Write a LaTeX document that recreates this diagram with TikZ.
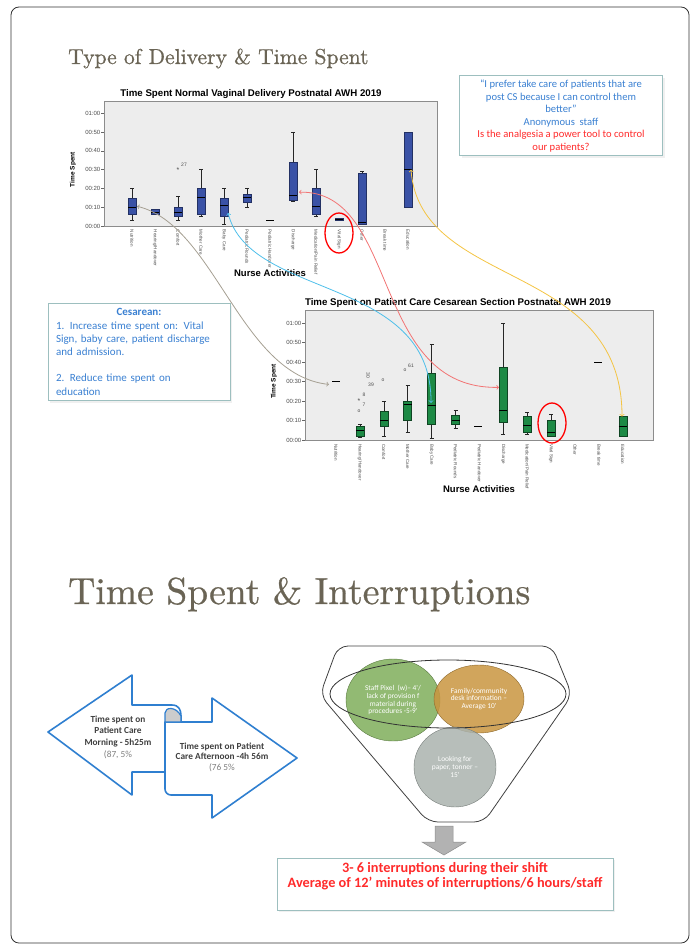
\documentclass[tikz,border=0pt]{standalone}
\usepackage{fontspec}
\newfontfamily\clb{Carlito}
\newfontfamily\arl{Liberation Sans}
\newfontfamily\ttlfont{lmroman10-regular.otf}[FakeBold=0.7]
\usetikzlibrary{calc, arrows, positioning, shapes.geometric, shadows}

\definecolor{ttlgray}{HTML}{6A6455}
\definecolor{plotgray}{HTML}{EDEDED}
\definecolor{boxblue}{HTML}{3A52A6}
\definecolor{boxgreen}{HTML}{1D8A45}
\definecolor{noteedge}{HTML}{9DBFBF}
\definecolor{qblue}{HTML}{3A80D2}
\definecolor{qred}{HTML}{FF2B2B}
\definecolor{lkgray}{HTML}{A59F92}
\definecolor{lkblue}{HTML}{4EBFEA}
\definecolor{lkred}{HTML}{F27474}
\definecolor{lkyellow}{HTML}{F4C443}
\definecolor{arrblue}{HTML}{2F7FD0}
\definecolor{fgreen}{HTML}{7FAE5B}
\definecolor{forange}{HTML}{C9953F}
\definecolor{fgray}{HTML}{AAB3AE}

\begin{document}
\begin{tikzpicture}[x=1pt,y=-1pt,>=to,
  every node/.style={inner sep=0pt},
  ttl/.style={anchor=base west,text=ttlgray,font=\ttlfont\fontsize{21.6}{26}\selectfont},
  ttlbig/.style={anchor=base west,text=ttlgray,font=\ttlfont\fontsize{37.6}{42}\selectfont},
  chtitle/.style={font=\arl\bfseries\fontsize{9.7}{10}\selectfont},
  tick/.style={anchor=east,text=black!70,font=\arl\fontsize{6}{6}\selectfont},
  cat/.style={rotate=-90,anchor=west,text=black!70,font=\arl\fontsize{4.5}{5}\selectfont},
  ylab/.style={rotate=90,font=\arl\bfseries\fontsize{6.5}{7}\selectfont},
  axlab/.style={font=\arl\bfseries\fontsize{9.5}{10}\selectfont},
  tiny/.style={text=black!70,font=\arl\fontsize{5}{5}\selectfont},
  plotbg/.style={fill=plotgray,draw=black!45,line width=0.6pt},
  whisk/.style={draw=black!85,line width=0.6pt},
  medline/.style={draw=black,line width=1pt},
  ring/.style={draw=red,line width=1.3pt},
  link/.style={<->,line width=0.8pt},
  note/.style={draw=noteedge,line width=1pt,fill=white,drop shadow={opacity=0.12}},
  arrowshape/.style={draw=arrblue,line width=1.6pt,fill=white,line join=round},
  bubble/.style={ellipse,text=white,align=center,fill opacity=0.85,text opacity=1,
    font=\clb\fontsize{7.4}{7.8}\selectfont},
]
\useasboundingbox (0,0) rectangle (696,944);
\draw[rounded corners=8pt,line width=0.8pt,black!80] (11,7) rectangle (689,943);

% titles
\node[ttl] (t1) at (68,64) {Type of Delivery \& Time Spent};
\node[ttlbig] (t2) at (68,604) {Time Spent \& Interruptions};

% chart 1
\node[chtitle] (c1t) at (251,94) {Time Spent Normal Vaginal Delivery Postnatal AWH 2019};
\begin{scope}[shift={(0,226)},y={(0pt,1.88pt)}]
  \draw[plotbg] (104,0) rectangle (437,66.5);
  \foreach \m/\t in {0/00:00,10/00:10,20/00:20,30/00:30,40/00:40,50/00:50,60/01:00}
    {\draw[black!60] (101,\m) -- (104,\m); \node[tick] at (100.5,\m) {\t};}
  \node[ylab] (y1) at (73,30) {Time Spent};
  \foreach \i/\c in {1/Nutrition,2/{Hearing/Handover},3/Comfort,4/Mother Care,5/Baby Care,6/Pediatric Rounds,7/Pediatric Handover,8/Discharge,9/{Medication/Pain Relief},10/Vital Sign,11/Other,12/Break time,13/Education}
    \node[cat] at ({132+23*(\i-1)},-2) {\c};
  \foreach \i/\lo/\qa/\md/\qb/\hi in {1/3/6/10/15/20,2/6/6/7/9/9,3/3/5/7/10/16,4/5/6/15/20/30,5/1/5/11/15/20,6/10/12.5/15/17/20,8/13/13.5/16/34/50,9/5/6/10.5/20/30,10/3.2/3.2/3.7/4.3/4.3,11/1/1/2/28/29,13/10/10/30/50/50}
  {
    \draw[whisk] ({132+23*(\i-1)},\lo) -- ({132+23*(\i-1)},\hi);
    \draw[whisk] ({130+23*(\i-1)},\lo) -- ({134+23*(\i-1)},\lo);
    \draw[whisk] ({130+23*(\i-1)},\hi) -- ({134+23*(\i-1)},\hi);
    \filldraw[fill=boxblue,draw=boxblue!60!black,line width=0.5pt] ({128+23*(\i-1)},\qa) rectangle ({136+23*(\i-1)},\qb);
    \draw[medline] ({128+23*(\i-1)},\md) -- ({136+23*(\i-1)},\md);
  }
  \draw[medline] (266,3) -- (274,3);
  \node[tiny,font=\arl\fontsize{7}{7}\selectfont] (o1) at (178,29.5) {*};
  \node[tiny] (o1l) at (184,32.5) {27};
  \node[axlab] (x1) at (270,-25) {Nurse Activities};
  \coordinate (nutA) at (137,10.5);
  \coordinate (babyA) at (228,7);
  \coordinate (disA) at (299,18);
  \coordinate (eduA) at (411,30);
\end{scope}
\draw[ring] (339,233) ellipse [x radius=14pt,y radius=20pt];

% chart 2
\node[chtitle] (c2t) at (458,303) {Time Spent on Patient Care Cesarean Section Postnatal AWH 2019};
\begin{scope}[shift={(0,440)},y={(0pt,1.95pt)}]
  \draw[plotbg] (305,0) rectangle (653,66.7);
  \foreach \m/\t in {0/00:00,10/00:10,20/00:20,30/00:30,40/00:40,50/00:50,60/01:00}
    {\draw[black!60] (302,\m) -- (305,\m); \node[tick] at (301.5,\m) {\t};}
  \node[ylab] (y2) at (274,30) {Time Spent};
  \foreach \i/\c in {1/Nutrition,2/{Hearing/Handover},3/Comfort,4/Mother Care,5/Baby Care,6/Pediatric Rounds,7/Pediatric Handover,8/Discharge,9/{Medication/Pain Relief},10/Vital Sign,11/Other,12/Break time,13/Education}
    \node[cat] at ({336+23.9*(\i-1)},-2) {\c};
  \foreach \i/\lo/\qa/\md/\qb/\hi in {2/1.5/2/5/7/8,3/2/7/10/15/20,4/4/10/18/20/28,5/1/8/17.5/34/49,6/6/8/10/12.5/15,8/3/9/15/37.5/60,9/3/4/7.5/12/14,10/2/2/4/10/13,13/2/2/7/12/12}
  {
    \draw[whisk] ({336+23.9*(\i-1)},\lo) -- ({336+23.9*(\i-1)},\hi);
    \draw[whisk] ({334+23.9*(\i-1)},\lo) -- ({338+23.9*(\i-1)},\lo);
    \draw[whisk] ({334+23.9*(\i-1)},\hi) -- ({338+23.9*(\i-1)},\hi);
    \filldraw[fill=boxgreen,draw=boxgreen!50!black,line width=0.5pt] ({332+23.9*(\i-1)},\qa) rectangle ({340+23.9*(\i-1)},\qb);
    \draw[medline] ({332+23.9*(\i-1)},\md) -- ({340+23.9*(\i-1)},\md);
  }
  \draw[medline] (332,30) -- (340,30);
  \draw[medline] (474,7) -- (482,7);
  \draw[medline] (594,40) -- (602,40);
  \node[tiny] (o2) at (359,15) {o};
  \node[tiny] (o2l) at (364,18) {7};
  \node[tiny,font=\arl\fontsize{7}{7}\selectfont] (o3) at (359,20) {*};
  \node[tiny] (o3l) at (364,23) {8};
  \node[tiny,rotate=-90] (o4l) at (368,33) {30};
  \node[tiny] (o4) at (383,30.5) {o};
  \node[tiny] (o5l) at (371,28.5) {39};
  \node[tiny] (o6) at (405,36) {o};
  \node[tiny] (o6l) at (411,38) {61};
  \node[axlab] (x2) at (479,-25) {Nurse Activities};
  \coordinate (nutB) at (329,28.5);
  \coordinate (babyB) at (431,19);
  \coordinate (disB) at (499,27);
  \coordinate (eduB) at (622,12);
\end{scope}
\draw[ring] (552,423) ellipse [x radius=14pt,y radius=20pt];

% notes
\node[note,minimum width=203pt,minimum height=80pt,align=center,text=qblue,
  font=\clb\fontsize{10.6}{12.6}\selectfont] (qnote) at (561,116)
  {“I prefer take care of patients that are\\post CS because I can control them\\better”\\Anonymous\ \ staff\\
   \color{qred}Is the analgesia a power tool to control\\\color{qred}our patients?};
\node[note,minimum width=182pt,minimum height=97pt,text width=166pt,text=qblue,
  font=\clb\fontsize{11}{13.2}\selectfont] (cnote) at (139,352)
  {\centering\bfseries Cesarean:\par\raggedright\mdseries
   1. Increase time spent on: Vital\\Sign, baby care, patient discharge\\and admission.\par\vspace{13.2pt}
   2. Reduce time spent on\\education\par};

% links between the two charts
\draw[link,lkgray] (nutA) .. controls (215,225) and (240,375) .. (nutB);
\draw[link,lkblue] (babyA) .. controls (250,300) and (432,275) .. (babyB);
\draw[link,lkred] (disA) .. controls (400,190) and (370,390) .. (disB);
\draw[link,lkyellow] (eduA) .. controls (420,290) and (622,260) .. (eduB);

% morning / afternoon arrows
\filldraw[arrowshape] (48,732) -- (132,675) -- (132,705) -- (172,705)
  .. controls (179,705) and (181,710) .. (181,716) -- (181,772) -- (132,772) -- (132,795) -- cycle;
\filldraw[arrowshape] (165,722) -- (212,722) -- (212,698) -- (297,758) -- (212,818) -- (212,795)
  [rounded corners=6pt] -- (165,795) [sharp corners] -- cycle;
\filldraw[fill=black!20,draw=arrblue,line width=1.2pt] (165,722) -- (165,713)
  .. controls (165,707) and (176,706) .. (181,716) -- (181,722) -- cycle;
\node[align=center,text=black!75,font=\clb\bfseries\fontsize{9.3}{11.6}\selectfont] (morn) at (118,737)
  {Time spent on\\Patient Care\\Morning - 5h25m\\\mdseries\color{black!50}(87, 5\%};
\node[align=center,text=black!75,font=\clb\bfseries\fontsize{9.3}{10.6}\selectfont] (aft) at (222,757)
  {Time spent on Patient\\Care Afternoon -4h 56m\\\mdseries\color{black!50}(76 5\%};

% funnel
\draw[black!75,line width=0.8pt,rounded corners=10pt] (320,695) -- (338,646) -- (552,646)
  -- (572,695) -- (484,822) -- (428,822) -- cycle;
\node[bubble,fill=fgreen,draw=fgreen!70!black,minimum width=94pt,minimum height=82pt] (bw) at (393,700)
  {Staff Pixel\ \ (w)– 4'/\\lack of provision f\\material during\\procedures -5-9'};
\node[bubble,fill=forange,draw=forange!70!black,minimum width=90pt,minimum height=68pt] (bf) at (479,699)
  {Family/community\\desk information –\\Average 10'};
\node[bubble,fill=fgray,draw=fgray!70!black,minimum width=82pt,minimum height=80pt] (bp) at (455,767)
  {Looking for\\paper, tonner –\\15'};
\draw[black!80,line width=0.8pt] (448,694) ellipse [x radius=118pt,y radius=34pt];
\filldraw[fill=black!30,draw=black!45,line width=0.5pt] (435,826) -- (453,826) -- (453,842)
  -- (466,842) -- (444,855) -- (422,842) -- (435,842) -- cycle;

% result
\node[note,minimum width=336pt,minimum height=52pt] (rnote) at (445,884) {};
\node[below=5pt of rnote.north,align=center,text=qred,font=\clb\bfseries\fontsize{14.3}{14.5}\selectfont] (rtxt)
  {3- 6 interruptions during their shift\\Average of 12’ minutes of interruptions/6 hours/staff};
\end{tikzpicture}
\end{document}
